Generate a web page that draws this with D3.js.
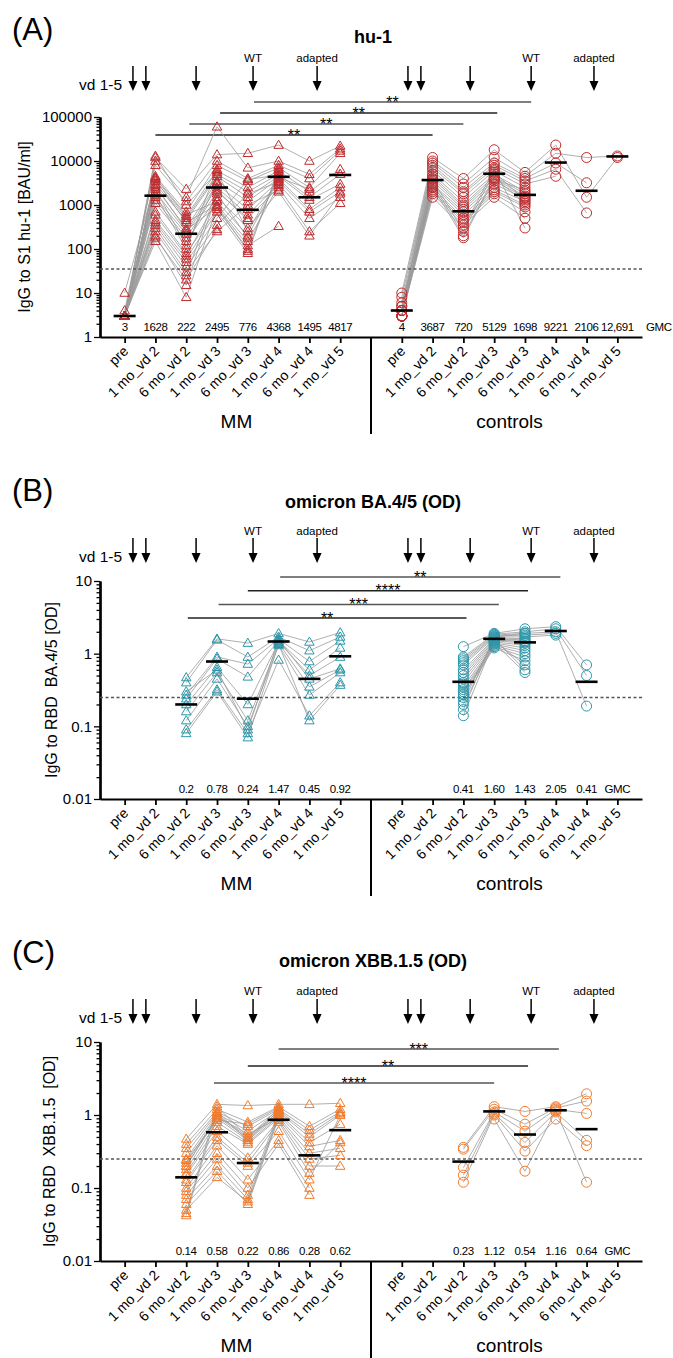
<!DOCTYPE html>
<html>
<head>
<meta charset="utf-8">
<script src="https://cdn.jsdelivr.net/npm/d3@7"></script>
<style>
  body { margin: 0; background: #fff; }
  svg { font-family: "Liberation Sans", Arial, sans-serif; }
</style>
</head>
<body>
<svg id="chart" width="673" height="1358"></svg>
<script>
const timepoints = ["pre", "1 mo_vd 2", "6 mo_vd 2", "1 mo_vd 3", "6 mo_vd 3", "1 mo_vd 4", "6 mo_vd 4", "1 mo_vd 5"];
const groups = ["MM", "controls"];
const ctrlOffset = 9; // controls start after the separator slot

// vaccine doses, in category units
const vaccArrows = [0.27, 0.69, 2.32, 4.17, 6.25, 9.2, 9.62, 11.22, 13.2, 15.24];
const arrowNotes = [[4.17, "WT"], [6.25, "adapted"], [13.2, "WT"], [15.24, "adapted"]];

// ---- (A) hu-1, BAU/ml; one row per subject: pre .. 1 mo_vd 5
const huMM = [
  [3, 12000, 2300, 14000, 15000, 23000, 10000, 22000],
  [3, 10000, 1500, 60000, 7000, 10000, 5000, 19000],
  [4, 8000, 1200, 10000, 4000, 8000, 4000, 17000],
  [3, 4500, 700, 8000, 3500, 7000, 2500, 15000],
  [3, 4000, 550, 6000, 2500, 6000, 2000, 6500],
  [10, 3500, 500, 5000, 2000, 5000, 1500, 5000],
  [3, 3000, 450, 4500, 1500, 4500, 1300, 3000],
  [3, 2500, 300, 3500, 1200, 4000, 800, 2500],
  [3, 2000, 250, 3000, 800, 3500, 700, 2000],
  [3, 1500, 220, 2500, 600, 3000, 500, 1500],
  [3, 1300, 180, 2000, 500, 2500, 250, 1100],
  [3, 1100, 150, 1500, 300, 2000, 200, 1800],
  [3, 13000, 1000, 5500, 250, 4200, 2300],
  [3, 4200, 600, 1200, 200, 3800],
  [3, 3800, 400, 1000, 150, 2800],
  [3, 2800, 270, 900, 120, 330],
  [3, 700, 80, 800, 100, 5500],
  [3, 450, 60, 700, 80, 6500],
  [3, 400, 50, 500, 3800, 4800],
  [3, 350, 40, 350, 1800, 3300],
  [3, 300, 30, 250, 1000, 2200],
  [3, 250, 25, 2200, 450],
  [3, 200, 15, 1800, 180],
  [3, 150, 8, 900, 90],
  [3, 2300, 120, 3200],
  [3, 1700, 100, 6500],
  [3, 600, 70, 1300],
  [3, 180, 20, 280]
];
const huCtrl = [
  [10, 12000, 4000, 18000, 5500, 23000, 1500, 12000],
  [8, 10000, 3000, 12000, 4500, 15000, 12000, 13000],
  [6, 9000, 2500, 9000, 4000, 9000, 3200],
  [5, 8000, 2000, 8000, 3500, 6500, 660],
  [4, 7000, 1800, 7000, 3000, 4500],
  [4, 6000, 1500, 6000, 2500],
  [4, 5000, 1200, 5000, 2000],
  [3, 4500, 1000, 4500, 1800],
  [3, 4000, 900, 4000, 1600],
  [3, 3500, 800, 3500, 1500],
  [3, 3000, 700, 3000, 1400],
  [3, 2800, 600, 2500, 1200],
  [4, 2500, 500, 2200, 1000],
  [3, 2200, 450, 2000, 900],
  [3, 2000, 400, 1800, 700],
  [3, 1800, 350, 1500, 500],
  [3, 1500, 300, 6500, 300],
  [5, 3800, 250, 5500, 1300],
  [3, 3200, 200, 4200, 1100],
  [3, 2600, 180, 3800, 2200]
];
const huGmcMM = ["3", "1628", "222", "2495", "776", "4368", "1495", "4817"];
const huGmcCtrl = ["4", "3687", "720", "5129", "1698", "9221", "2106", "12,691"];
const huCutoff = 35.2;
const huSig = [[4.2, 13.2, "**"], [3.1, 12.1, "**"], [2.1, 11.0, "**"], [1.0, 10.0, "**"]];

// ---- (B) omicron BA.4/5, OD
const baMM = [
  [null, null, 0.47, 1.6, 1.4, 1.9, 1.45, 1.95],
  [null, null, 0.4, 1.55, 0.9, 1.7, 1.1, 1.7],
  [null, null, 0.27, 0.9, 0.72, 1.6, 0.78, 1.5],
  [null, null, 0.24, 0.85, 0.48, 1.5, 0.6, 1.2],
  [null, null, 0.2, 0.65, 0.2, 1.45, 0.5, 0.9],
  [null, null, 0.16, 0.55, 0.12, 1.4, 0.35, 0.6],
  [null, null, 0.12, 0.45, 0.1, 1.3, 0.27, 0.55],
  [null, null, 0.09, 0.32, 0.08, 0.82, 0.14, 0.4],
  [null, null, 0.08, 0.3, 0.07, 1.35, 0.12, 0.37],
  [null, null, 0.3, 0.6, 0.09, 1.55, 0.45, 0.62]
];
const baCtrl = [
  [null, null, 1.25, 1.9, 2.2, 2.35, 0.7],
  [null, null, 0.9, 1.85, 2.0, 2.2, 0.5],
  [null, null, 0.85, 1.8, 1.9, 2.0, 0.19],
  [null, null, 0.8, 1.75, 1.8, 1.9],
  [null, null, 0.75, 1.7, 1.7, 1.8],
  [null, null, 0.7, 1.65, 1.6],
  [null, null, 0.6, 1.6, 1.5],
  [null, null, 0.55, 1.55, 1.45],
  [null, null, 0.5, 1.5, 1.4],
  [null, null, 0.45, 1.45, 1.3],
  [null, null, 0.4, 1.4, 1.2],
  [null, null, 0.35, 1.35, 1.1],
  [null, null, 0.32, 1.3, 1.0],
  [null, null, 0.3, 1.25, 0.9],
  [null, null, 0.27, 1.2, 0.8],
  [null, null, 0.25, 1.5, 0.7],
  [null, null, 0.22, 1.6, 0.6],
  [null, null, 0.2, 1.4, 0.55],
  [null, null, 0.17, 1.7, 1.9],
  [null, null, 0.14, 1.5, 1.6],
  [null, null, 0.28],
  [null, null, 0.38]
];
const baGmcMM = ["", "", "0.2", "0.78", "0.24", "1.47", "0.45", "0.92"];
const baGmcCtrl = ["", "", "0.41", "1.60", "1.43", "2.05", "0.41", ""];
const baCutoff = 0.25;
const baSig = [[5.05, 14.15, "**"], [4.0, 13.1, "****"], [3.05, 12.15, "***"], [2.05, 11.1, "**"]];

// ---- (C) omicron XBB.1.5, OD
const xbbMM = [
  [null, null, 0.47, 1.4, 1.35, 1.4, 1.4, 1.45],
  [null, null, 0.4, 1.2, 0.8, 1.3, 0.7, 1.2],
  [null, null, 0.35, 1.1, 0.7, 1.2, 0.62, 1.1],
  [null, null, 0.3, 1.05, 0.6, 1.15, 0.55, 1.05],
  [null, null, 0.25, 1.0, 0.5, 1.1, 0.5, 1.0],
  [null, null, 0.22, 0.95, 0.48, 1.05, 0.42, 0.75],
  [null, null, 0.2, 0.9, 0.45, 1.0, 0.37, 0.45],
  [null, null, 0.18, 0.8, 0.42, 0.95, 0.3, 0.35],
  [null, null, 0.16, 0.7, 0.4, 0.9, 0.25, 0.28],
  [null, null, 0.15, 0.6, 0.26, 0.85, 0.2, 0.2],
  [null, null, 0.13, 0.5, 0.22, 0.8, 0.16, 0.42],
  [null, null, 0.12, 0.45, 0.2, 0.6, 0.13, 1.0],
  [null, null, 0.1, 0.38, 0.13, 0.45, 0.1],
  [null, null, 0.09, 0.3, 0.1, 0.4, 0.08],
  [null, null, 0.08, 0.25, 0.08, 1.1],
  [null, null, 0.07, 0.2, 0.07, 1.0],
  [null, null, 0.06, 0.17, 0.06, 0.9],
  [null, null, 0.05, 0.14, 0.065, 0.95],
  [null, null, 0.045, 1.3, 0.5, 1.2],
  [null, null, 0.042, 1.1, 0.45, 1.15],
  [null, null, 0.2, 0.95, 0.55, 0.9],
  [null, null, 0.24, 0.85, 0.75, 1.25]
];
const xbbCtrl = [
  [null, null, 0.36, 1.3, 1.12, 1.3, 1.95],
  [null, null, 0.34, 1.2, 0.75, 1.25, 1.55],
  [null, null, 0.19, 1.1, 0.6, 1.2, 1.05],
  [null, null, 0.15, 1.05, 0.42, 1.1, 0.45],
  [null, null, 0.12, 1.0, 0.32, 0.88, 0.38],
  [null, null, null, 0.88, 0.17, 1.15, 0.12]
];
const xbbGmcMM = ["", "", "0.14", "0.58", "0.22", "0.86", "0.28", "0.62"];
const xbbGmcCtrl = ["", "", "0.23", "1.12", "0.54", "1.16", "0.64", ""];
const xbbCutoff = 0.25;
const xbbSig = [[5.0, 14.1, "***"], [4.0, 13.1, "**"], [2.9, 12.0, "****"]];

// panel layout
const panels = [
  { letter: "(A)", title: "hu-1", ylabel: "IgG to S1 hu-1 [BAU/ml]", color: "#c02b2e",
    mm: huMM, ctrl: huCtrl, gmcMM: huGmcMM, gmcCtrl: huGmcCtrl, cutoff: huCutoff, sig: huSig,
    domain: [1, 100000], top: 117, bottom: 337, letterY: 40, titleY: 43, noteY: 62,
    arrowTop: 66, arrowBottom: 91, sigTop: 102, sigStep: 11, ylabelX: 30 },
  { letter: "(B)", title: "omicron BA.4/5 (OD)", ylabel: "IgG to RBD  BA.4/5 [OD]", color: "#2b97aa",
    mm: baMM, ctrl: baCtrl, gmcMM: baGmcMM, gmcCtrl: baGmcCtrl, cutoff: baCutoff, sig: baSig,
    domain: [0.01, 10], top: 581, bottom: 799, letterY: 501, titleY: 508, noteY: 535,
    arrowTop: 538, arrowBottom: 563, sigTop: 577, sigStep: 13.7, ylabelX: 57 },
  { letter: "(C)", title: "omicron XBB.1.5 (OD)", ylabel: "IgG to RBD  XBB.1.5  [OD]", color: "#f27b2c",
    mm: xbbMM, ctrl: xbbCtrl, gmcMM: xbbGmcMM, gmcCtrl: xbbGmcCtrl, cutoff: xbbCutoff, sig: xbbSig,
    domain: [0.01, 10], top: 1042, bottom: 1261, letterY: 963, titleY: 967, noteY: 995,
    arrowTop: 999, arrowBottom: 1024, sigTop: 1049, sigStep: 17, ylabelX: 55 }
];

const svg = d3.select("#chart");
const x = d3.scaleLinear().domain([-0.8, 16.8]).range([100, 642]);
const tickIdx = d3.range(8).concat(d3.range(8).map((i) => i + ctrlOffset));

function triPath(s) {
  const h = (s * Math.sqrt(3)) / 2;
  return "M0," + (-h * 0.6) + "L" + s / 2 + "," + h * 0.4 + "L" + -s / 2 + "," + h * 0.4 + "Z";
}

function drawPanel(p) {
  const y = d3.scaleLog().domain(p.domain).range([p.bottom, p.top]);
  const g = svg.append("g").attr("fill", "#000");

  g.append("text").attr("x", 12).attr("y", p.letterY).attr("font-size", 31).text(p.letter);
  g.append("text").attr("x", 373).attr("y", p.titleY).attr("text-anchor", "middle")
    .attr("font-weight", "bold").attr("font-size", 18).text(p.title);

  // dose arrows
  g.append("text").attr("x", 79).attr("y", p.arrowBottom - 1).attr("font-size", 15.5).text("vd 1-5");
  vaccArrows.forEach(function (a) {
    const ax = x(a);
    g.append("line").attr("x1", ax).attr("x2", ax).attr("y1", p.arrowTop).attr("y2", p.arrowBottom - 8)
      .attr("stroke", "#000").attr("stroke-width", 1.5);
    g.append("path")
      .attr("d", "M" + (ax - 4.5) + "," + (p.arrowBottom - 10) + "L" + (ax + 4.5) + "," + (p.arrowBottom - 10) + "L" + ax + "," + p.arrowBottom + "Z")
      .attr("fill", "#000");
  });
  arrowNotes.forEach(function (n) {
    g.append("text").attr("x", x(n[0])).attr("y", p.noteY).attr("text-anchor", "middle")
      .attr("font-size", 11.5).text(n[1]);
  });

  // significance brackets
  p.sig.forEach(function (s, k) {
    const sy = p.sigTop + k * p.sigStep;
    g.append("line").attr("x1", x(s[0])).attr("x2", x(s[1])).attr("y1", sy).attr("y2", sy)
      .attr("stroke", k % 2 ? "#222" : "#555").attr("stroke-width", 1.5);
    g.append("text").attr("x", (x(s[0]) + x(s[1])) / 2).attr("y", sy + 5.5).attr("text-anchor", "middle")
      .attr("font-size", 16).attr("fill", "#000").text(s[2]);
  });

  // y axis, log with minor ticks
  const e0 = Math.round(Math.log10(p.domain[0])), e1 = Math.round(Math.log10(p.domain[1]));
  const majors = d3.range(e0, e1 + 1).map((e) => +Math.pow(10, e).toPrecision(1));
  const minors = [];
  majors.slice(0, -1).forEach((b) => d3.range(2, 10).forEach((m) => minors.push(+(b * m).toPrecision(2))));

  const yMinor = g.append("g").attr("transform", "translate(100,0)")
    .call(d3.axisLeft(y).tickValues(minors).tickFormat("").tickSize(3.5).tickSizeOuter(0));
  const yAxis = g.append("g").attr("transform", "translate(100,0)")
    .call(d3.axisLeft(y).tickValues(majors).tickFormat((d) => String(d)).tickSize(6).tickSizeOuter(0).tickPadding(2));
  yAxis.selectAll("text").attr("font-size", 15).attr("fill", "#000");
  [yMinor, yAxis].forEach(function (a) {
    a.select(".domain").attr("stroke-width", 2.2);
    a.selectAll(".tick line").attr("stroke-width", 1.3);
  });

  g.append("text").attr("transform", "translate(" + p.ylabelX + "," + (p.top + p.bottom) / 2 + ") rotate(-90)")
    .attr("text-anchor", "middle").attr("font-size", 16).style("white-space", "pre").text(p.ylabel);

  // x axis
  const xAxis = g.append("g").attr("transform", "translate(0," + p.bottom + ")")
    .call(d3.axisBottom(x).tickValues(tickIdx).tickFormat((i) => timepoints[i % ctrlOffset]).tickSize(6).tickSizeOuter(0));
  xAxis.select(".domain").attr("stroke-width", 2.2);
  xAxis.selectAll(".tick line").attr("stroke-width", 1.8);
  xAxis.selectAll("text").attr("x", 0).attr("y", 0).attr("dy", 0)
    .attr("transform", "translate(4,15) rotate(-45)")
    .attr("text-anchor", "end").attr("font-size", 14).attr("fill", "#000");

  g.append("line").attr("x1", x(8)).attr("x2", x(8)).attr("y1", p.bottom).attr("y2", p.bottom + 97)
    .attr("stroke", "#000").attr("stroke-width", 2);
  g.append("text").attr("x", x(3.5) + 4).attr("y", p.bottom + 91).attr("text-anchor", "middle")
    .attr("font-size", 19).text(groups[0]);
  g.append("text").attr("x", x(12.5)).attr("y", p.bottom + 91).attr("text-anchor", "middle")
    .attr("font-size", 19).text(groups[1]);

  // subject lines
  const line = d3.line().x((d) => x(d.i)).y((d) => y(d.v));
  const series = [];
  p.mm.forEach((row) => series.push({ pts: toPts(row, 0), shape: "tri" }));
  p.ctrl.forEach((row) => series.push({ pts: toPts(row, ctrlOffset), shape: "circ" }));

  g.append("g").selectAll("path").data(series).join("path")
    .attr("d", (d) => line(d.pts)).attr("fill", "none")
    .attr("stroke", "#9a9a9a").attr("stroke-width", 0.8);

  g.append("line").attr("x1", 100).attr("x2", 642).attr("y1", y(p.cutoff)).attr("y2", y(p.cutoff))
    .attr("stroke", "#555").attr("stroke-width", 1.5).attr("stroke-dasharray", "3,2.5");

  // markers
  const marks = g.append("g").attr("fill", "none").attr("stroke", p.color).attr("stroke-width", 1);
  series.forEach(function (s) {
    s.pts.forEach(function (d) {
      if (s.shape === "tri") {
        marks.append("path").attr("d", triPath(9.5)).attr("transform", "translate(" + x(d.i) + "," + y(d.v) + ")");
      } else {
        marks.append("circle").attr("cx", x(d.i)).attr("cy", y(d.v)).attr("r", 5);
      }
    });
  });

  // geometric mean bars + labels
  const gm = [];
  p.gmcMM.forEach((s, i) => { if (s) gm.push({ i: i, s: s }); });
  p.gmcCtrl.forEach((s, i) => { if (s) gm.push({ i: i + ctrlOffset, s: s }); });
  g.append("g").selectAll("line").data(gm).join("line")
    .attr("x1", (d) => x(d.i) - 11).attr("x2", (d) => x(d.i) + 11)
    .attr("y1", (d) => y(+d.s.replace(",", ""))).attr("y2", (d) => y(+d.s.replace(",", "")))
    .attr("stroke", "#000").attr("stroke-width", 2.6);
  const gmcRow = g.append("g").attr("font-size", 11.5).attr("letter-spacing", "-0.4px");
  gmcRow.selectAll("text").data(gm).join("text")
    .attr("x", (d) => x(d.i)).attr("y", p.bottom - 6).attr("text-anchor", "middle")
    .text((d) => d.s);
  if (p.gmcCtrl[7]) {
    gmcRow.append("text").attr("x", 646).attr("y", p.bottom - 6).text("GMC");
  } else {
    gmcRow.append("text").attr("x", x(16)).attr("y", p.bottom - 6).attr("text-anchor", "middle").text("GMC");
  }
}

function toPts(row, off) {
  const out = [];
  row.forEach(function (v, i) { if (v != null) out.push({ i: i + off, v: v }); });
  return out;
}

panels.forEach(drawPanel);
</script>
</body>
</html>
